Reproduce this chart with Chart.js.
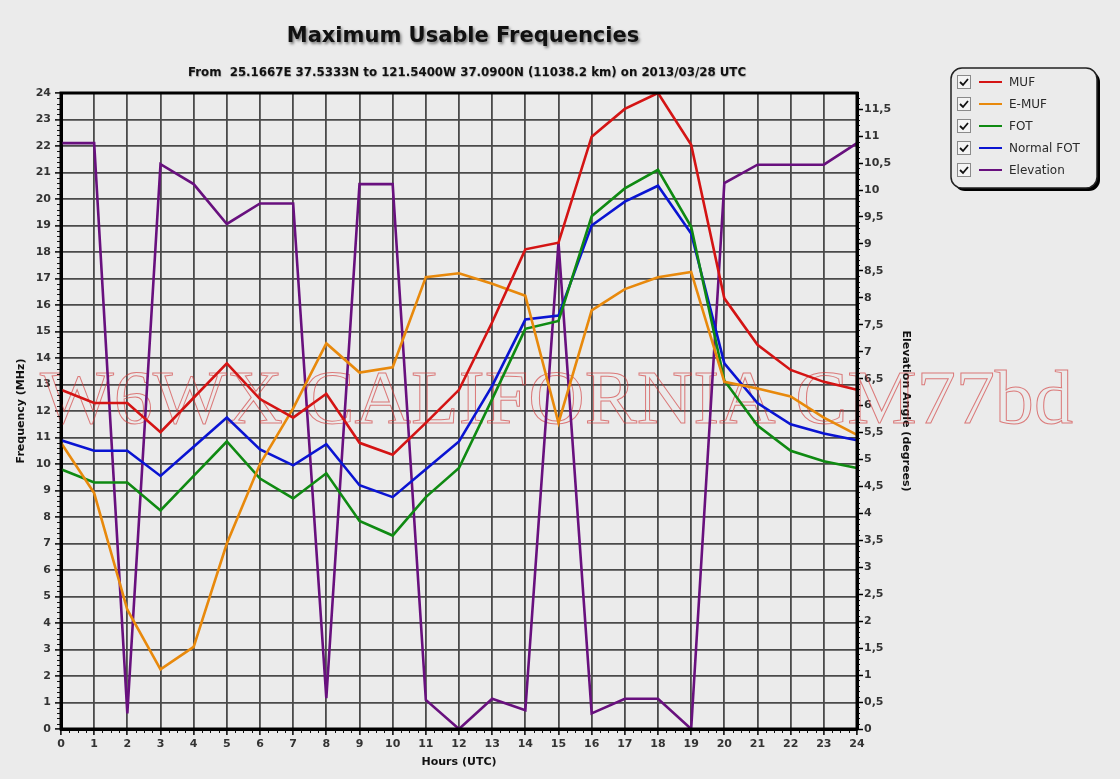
<!DOCTYPE html>
<html>
<head>
<meta charset="utf-8">
<title>Maximum Usable Frequencies</title>
<script src="https://cdn.jsdelivr.net/npm/chart.js@4.4.1/dist/chart.umd.min.js"></script>
<style>
  html, body { margin: 0; padding: 0; background: #ebebeb; }
  #wrap { width: 1120px; height: 779px; }
</style>
</head>
<body>
<div id="wrap"><canvas id="mufChart" width="1120" height="779"></canvas></div>
<script>
// hours along the bottom
const hours = ['0', '1', '2', '3', '4', '5', '6', '7', '8', '9', '10', '11', '12',
               '13', '14', '15', '16', '17', '18', '19', '20', '21', '22', '23', '24'];

// frequencies in MHz
const muf = [12.8, 12.3, 12.3, 11.2, 12.5, 13.8, 12.45, 11.75, 12.65, 10.8, 10.35, 11.55, 12.8,
             15.35, 18.1, 18.35, 22.35, 23.4, 24.0, 22.05, 16.25, 14.5, 13.55, 13.1, 12.8];
const eMuf = [10.8, 8.9, 4.5, 2.25, 3.1, 7.0, 10.0, 12.1, 14.55, 13.45, 13.65, 17.05, 17.2,
              16.8, 16.35, 11.55, 15.8, 16.6, 17.05, 17.25, 13.1, 12.85, 12.55, 11.75, 11.1];
const fot = [9.8, 9.3, 9.3, 8.25, 9.55, 10.85, 9.45, 8.7, 9.65, 7.85, 7.3, 8.75, 9.85,
             12.45, 15.1, 15.4, 19.35, 20.4, 21.1, 18.95, 13.15, 11.45, 10.5, 10.1, 9.85];
const normalFot = [10.9, 10.5, 10.5, 9.55, 10.65, 11.75, 10.55, 9.95, 10.75, 9.2, 8.75, 9.8, 10.85,
                   12.95, 15.45, 15.6, 19.0, 19.9, 20.5, 18.7, 13.8, 12.3, 11.5, 11.15, 10.9];
// elevation angle in degrees (right axis)
const elevation = [10.87, 10.87, 0.29, 10.48, 10.11, 9.37, 9.75, 9.75, 0.57, 10.11, 10.11, 0.54, 0,
                   0.56, 0.35, 9.03, 0.29, 0.56, 0.56, 0, 10.13, 10.47, 10.47, 10.47, 10.87];

const seriesNames = ['MUF', 'E-MUF', 'FOT', 'Normal FOT', 'Elevation'];
const seriesColors = ['#d41414', '#e8890c', '#0f8a12', '#0a14d2', '#68107e'];

const titleText = 'Maximum Usable Frequencies';
const subtitleText = 'From  25.1667E 37.5333N to 121.5400W 37.0900N (11038.2 km) on 2013/03/28 UTC';
const watermarkText = 'W6WX CALIFORNIA CM77bd';

const sans = '"DejaVu Sans", Verdana, sans-serif';
Chart.defaults.font.family = sans;
Chart.defaults.color = '#2a2a2a';

// heading with its soft drop shadow
const heading = {
  id: 'heading',
  afterDraw(chart) {
    const ctx = chart.ctx;
    ctx.save();
    ctx.textAlign = 'center';
    ctx.textBaseline = 'alphabetic';
    ctx.fillStyle = '#111';
    ctx.shadowColor = 'rgba(0, 0, 0, 0.5)';
    ctx.shadowBlur = 3;
    ctx.shadowOffsetX = 1.5;
    ctx.shadowOffsetY = 1.5;
    ctx.font = 'bold 21px ' + sans;
    ctx.fillText(titleText, 463, 42);
    ctx.shadowBlur = 1.2;
    ctx.shadowOffsetX = 0.5;
    ctx.shadowOffsetY = 0.5;
    ctx.shadowColor = 'rgba(0, 0, 0, 0.3)';
    ctx.font = 'bold 11.8px ' + sans;
    ctx.fillText(subtitleText, 467, 76);
    ctx.restore();
  }
};

// outlined call-sign stamp behind the lines
const watermark = {
  id: 'watermark',
  beforeDatasetsDraw(chart) {
    const ctx = chart.ctx;
    ctx.save();
    ctx.font = '77px "Liberation Serif", "DejaVu Serif", serif';
    const w = ctx.measureText(watermarkText).width;
    ctx.translate(40, 423);
    ctx.scale(1033 / w, 1);
    ctx.strokeStyle = 'rgba(210, 60, 60, 0.65)';
    ctx.lineWidth = 1;
    ctx.strokeText(watermarkText, 0, 0);
    ctx.restore();
  }
};

// small ticks between the labelled ones, and the black frame
const frame = {
  id: 'frame',
  afterDraw(chart) {
    const ctx = chart.ctx;
    const a = chart.chartArea;
    const sx = chart.scales.x, sy = chart.scales.y, sy2 = chart.scales.y2;
    ctx.save();
    ctx.strokeStyle = '#111';
    ctx.lineWidth = 1;
    ctx.beginPath();
    for (let i = 1; i < 24 * 5; i++) {
      if (i % 5 === 0) continue;
      const py = Math.round(sy.getPixelForValue(i / 5)) + 0.5;
      ctx.moveTo(a.left - 4, py); ctx.lineTo(a.left, py);
    }
    for (let i = 1; i < 118; i++) {
      if (i % 5 === 0) continue;
      const py = Math.round(sy2.getPixelForValue(i / 10)) + 0.5;
      ctx.moveTo(a.right, py); ctx.lineTo(a.right + 3, py);
    }
    const step = (sx.getPixelForValue(1) - sx.getPixelForValue(0)) / 4;
    for (let i = 1; i < 24 * 4; i++) {
      if (i % 4 === 0) continue;
      const px = Math.round(sx.getPixelForValue(0) + i * step) + 0.5;
      ctx.moveTo(px, a.bottom); ctx.lineTo(px, a.bottom + 4);
    }
    ctx.stroke();
    ctx.lineWidth = 3;
    ctx.strokeStyle = '#000';
    ctx.strokeRect(a.left, a.top, a.right - a.left, a.bottom - a.top);
    ctx.restore();
  }
};

// the boxed legend with check marks at the upper right
const checkLegend = {
  id: 'checkLegend',
  afterDraw(chart) {
    const ctx = chart.ctx;
    const bx = 951, by = 68, bw = 146, bh = 120;
    ctx.save();
    ctx.fillStyle = '#000';
    ctx.beginPath();
    ctx.roundRect(bx + 3, by + 3, bw, bh, 11);
    ctx.fill();
    ctx.fillStyle = '#ebebeb';
    ctx.strokeStyle = '#222';
    ctx.lineWidth = 1.5;
    ctx.beginPath();
    ctx.roundRect(bx, by, bw, bh, 11);
    ctx.fill();
    ctx.stroke();
    ctx.font = '12px ' + sans;
    ctx.textBaseline = 'middle';
    chart.data.datasets.forEach((ds, i) => {
      const y = 82 + i * 22;
      ctx.fillStyle = '#f4f4f4';
      ctx.fillRect(957, y - 7, 14, 14);
      ctx.strokeStyle = '#8a8a8a';
      ctx.lineWidth = 1;
      ctx.strokeRect(957.5, y - 6.5, 13, 13);
      ctx.strokeStyle = '#111';
      ctx.lineWidth = 1.8;
      ctx.beginPath();
      ctx.moveTo(960, y);
      ctx.lineTo(963, y + 3);
      ctx.lineTo(968, y - 3);
      ctx.stroke();
      ctx.strokeStyle = ds.borderColor;
      ctx.lineWidth = 2;
      ctx.beginPath();
      ctx.moveTo(979, y);
      ctx.lineTo(1002, y);
      ctx.stroke();
      ctx.fillStyle = '#2a2a2a';
      ctx.fillText(ds.label, 1009, y + 1);
    });
    ctx.restore();
  }
};

const freqSeries = [muf, eMuf, fot, normalFot];
const datasets = freqSeries.map((vals, i) => ({
  label: seriesNames[i],
  data: vals,
  borderColor: seriesColors[i],
  borderWidth: 2.6,
  pointRadius: 0,
  tension: 0,
  yAxisID: 'y'
}));
datasets.push({
  label: seriesNames[4],
  data: elevation,
  borderColor: seriesColors[4],
  borderWidth: 2.6,
  pointRadius: 0,
  tension: 0,
  yAxisID: 'y2'
});

const tickFont = { size: 11, weight: 'bold' };
const axisTitleFont = { size: 11, weight: 'bold' };
const gridStyle = { color: '#4a4a4a', lineWidth: 1.8, tickColor: '#000', tickLength: 6, tickWidth: 1.5 };

new Chart(document.getElementById('mufChart'), {
  type: 'line',
  data: { labels: hours, datasets: datasets },
  plugins: [watermark, frame, checkLegend, heading],
  options: {
    responsive: false,
    animation: false,
    layout: { padding: { left: 14, right: 204, top: 93, bottom: 6 } },
    plugins: {
      legend: { display: false },
      tooltip: { enabled: false },
      title: { display: false }
    },
    scales: {
      x: {
        offset: false,
        afterFit(scale) { scale.height = 44; },
        grid: gridStyle,
        border: { color: '#000', width: 3 },
        ticks: { maxRotation: 0, autoSkip: false, padding: 3, font: tickFont, color: '#333' },
        title: { display: true, text: 'Hours (UTC)', color: '#111', font: axisTitleFont, padding: { top: 0, bottom: 4 } }
      },
      y: {
        position: 'left',
        min: 0,
        max: 24,
        afterFit(scale) { scale.width = 47; },
        grid: gridStyle,
        border: { color: '#000', width: 3 },
        ticks: { stepSize: 1, padding: 4, font: tickFont, color: '#333' },
        title: { display: true, text: 'Frequency (MHz)', color: '#111', font: axisTitleFont, padding: { top: 1, bottom: 2 } }
      },
      y2: {
        position: 'right',
        min: 0,
        max: 11.8,
        afterFit(scale) { scale.width = 59; },
        grid: { drawOnChartArea: false, tickColor: '#000', tickLength: 6, tickWidth: 1.5 },
        border: { color: '#000', width: 3 },
        ticks: {
          stepSize: 0.5,
          includeBounds: false,
          padding: 1,
          font: tickFont,
          color: '#333',
          callback: v => String(v).replace('.', ',')
        },
        title: { display: true, text: 'Elevation Angle (degrees)', color: '#111', font: axisTitleFont, padding: { top: 4, bottom: 2 } }
      }
    }
  }
});
</script>
</body>
</html>
